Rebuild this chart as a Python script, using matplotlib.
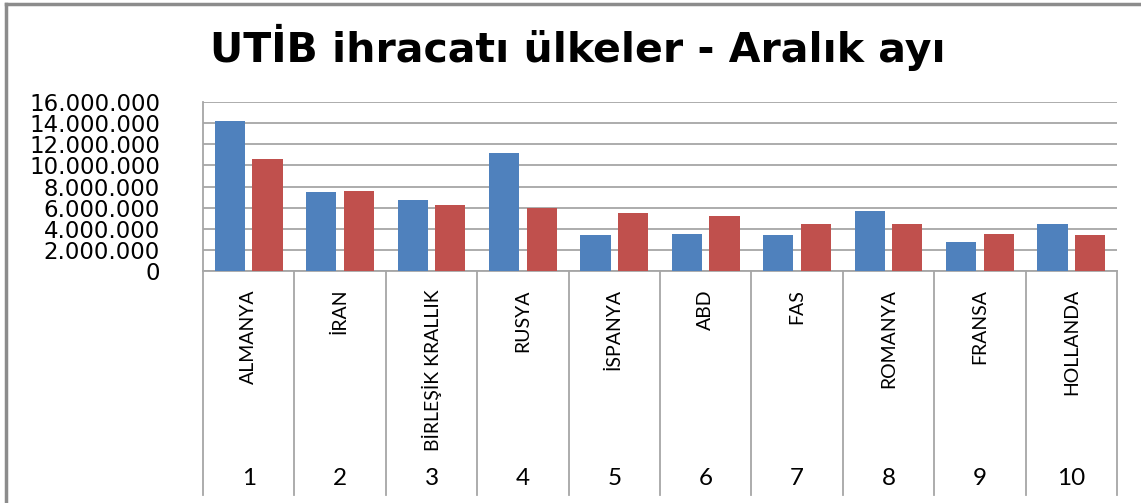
import matplotlib
matplotlib.use("Agg")
import matplotlib.pyplot as plt
from matplotlib.lines import Line2D
from matplotlib.transforms import blended_transform_factory
import numpy as np

countries = ["ALMANYA", "İRAN", "BİRLEŞİK KRALLIK", "RUSYA", "İSPANYA",
             "ABD", "FAS", "ROMANYA", "FRANSA", "HOLLANDA"]
ranks = ["1", "2", "3", "4", "5", "6", "7", "8", "9", "10"]
series_a = [14200000, 7480000, 6760000, 11210000, 3380000,
            3470000, 3380000, 5710000, 2750000, 4420000]
series_b = [10640000, 7610000, 6220000, 6000000, 5490000,
            5180000, 4420000, 4420000, 3470000, 3380000]
yticks = list(range(0, 16000001, 2000000))

W, H = 1141, 503
fig = plt.figure(figsize=(W / 100, H / 100), dpi=100)
ax = fig.add_axes([203 / W, 1 - 271 / H, (1117 - 203) / W, (271 - 102) / H])

x = np.arange(len(countries))
ax.bar(x - 0.205, series_a, width=0.33, color="#4F81BD", zorder=3)
ax.bar(x + 0.205, series_b, width=0.33, color="#C0504D", zorder=3)

ax.set_xlim(-0.5, len(countries) - 0.5)
ax.set_ylim(0, 16000000)
ax.set_yticks(yticks)
ax.set_yticklabels(["{:,}".format(v).replace(",", ".") for v in yticks],
                   fontsize=16.5, family="DejaVu Sans")
ax.tick_params(axis="y", length=0, pad=31)
ax.set_xticks([])
ax.grid(axis="y", color="#a6a6a6", linewidth=1.3, zorder=0)
for s in ["top", "right"]:
    ax.spines[s].set_visible(False)
ax.spines["left"].set_color("#a6a6a6")
ax.spines["bottom"].set_color("#a6a6a6")
ax.spines["left"].set_linewidth(1.3)
ax.spines["bottom"].set_linewidth(1.3)

# category separators and two-level labels below the axis
tr = blended_transform_factory(ax.transData, ax.transAxes)
sep_bottom = (271 - 495) / (271 - 102)
for b in np.arange(-0.5, len(countries), 1.0):
    ax.add_line(Line2D([b, b], [0, sep_bottom], transform=tr, color="#a6a6a6",
                       linewidth=1.3, clip_on=False))
for i, (c, r) in enumerate(zip(countries, ranks)):
    ax.text(i, (271 - 289) / (271 - 102), c, transform=tr, rotation=90,
            ha="center", va="top", fontsize=14, family="Lato")
    ax.text(i, (271 - 478) / (271 - 102), r, transform=tr,
            ha="center", va="center", fontsize=17.5, family="Lato")

fig.text(578 / W, 1 - 62 / H, "UTİB ihracatı ülkeler - Aralık ayı",
         ha="center", va="baseline", fontsize=29.5, fontweight="bold",
         family="DejaVu Sans")

# chart area frame (top and left edges visible)
fig.add_artist(Line2D([6 / W, 6 / W], [0, 1 - 4 / H], transform=fig.transFigure,
                      color="#8c8c8c", linewidth=2.5))
fig.add_artist(Line2D([6 / W, 1], [1 - 4 / H, 1 - 4 / H], transform=fig.transFigure,
                      color="#8c8c8c", linewidth=2.5))

fig.savefig("out.png", dpi=100)
